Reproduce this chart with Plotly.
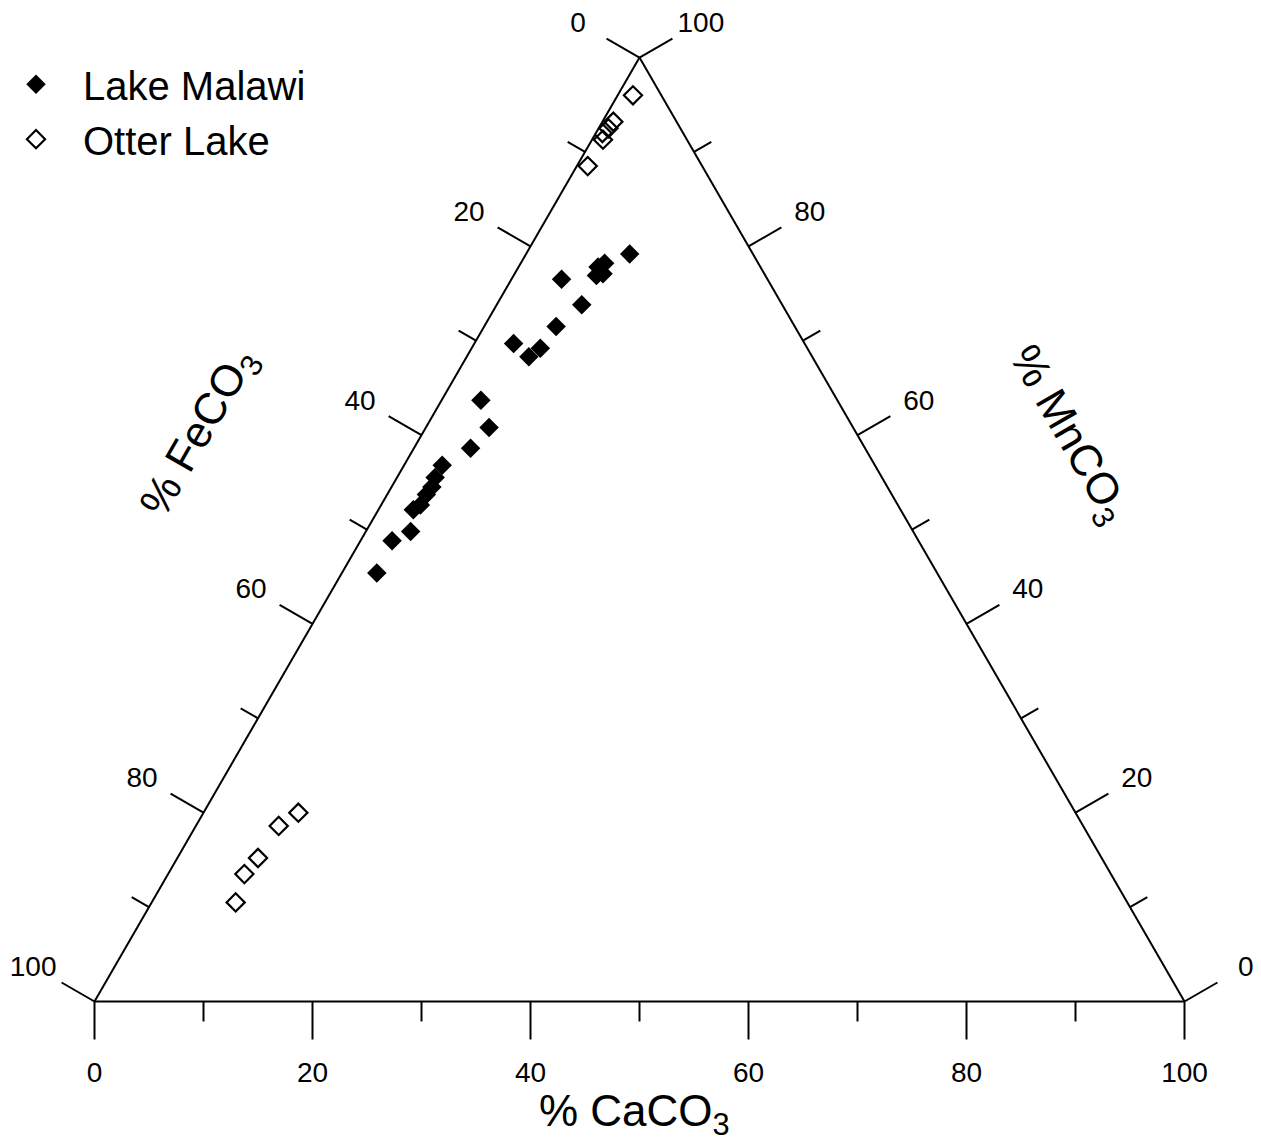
import math
import plotly.graph_objects as go

# Ternary data: MnCO3 (top), FeCO3 (bottom-left), CaCO3 (bottom-right), in %
malawi_mn = [79.2, 78.2, 77.8, 76.9, 77.1, 76.5, 73.8, 71.5, 69.7, 69.2, 68.3,
             63.7, 60.8, 58.6, 56.8, 55.5, 54.5, 53.7, 52.6, 52.1, 49.8, 48.8, 45.4]
malawi_fe = [11.3, 14.1, 14.9, 15.5, 14.8, 18.9, 18.4, 21.9, 26.7, 24.5, 26.0,
             32.7, 33.4, 36.2, 39.7, 41.0, 41.8, 42.7, 43.8, 44.7, 46.1, 48.3, 51.4]
malawi_ca = [9.5, 7.7, 7.3, 7.6, 8.1, 4.6, 7.8, 6.6, 3.6, 6.3, 5.7,
             3.6, 5.8, 5.2, 3.5, 3.5, 3.7, 3.6, 3.6, 3.2, 4.1, 2.9, 3.2]

otter_mn = [96.0, 93.2, 92.5, 92.0, 91.3, 88.5, 20.0, 18.6, 15.2, 13.5, 10.5]
otter_fe = [2.6, 5.8, 6.6, 7.4, 7.7, 10.5, 71.3, 73.8, 77.4, 79.5, 81.8]
otter_ca = [1.4, 1.0, 0.9, 0.6, 1.0, 1.0, 8.7, 7.6, 7.4, 7.0, 7.7]

# Axis tick values (percent of the labelled component)
major_ticks = [0, 20, 40, 60, 80, 100]
minor_ticks = [10, 30, 50, 70, 90]

W, H = 1261, 1143
FONT = "Liberation Sans, Arial, Helvetica, sans-serif"
S3 = math.sqrt(3) / 2

# Triangle placement on the page (pixels) and scale
TRI_LEFT, TRI_RIGHT, TRI_BOTTOM = 94.5, 1184.5, 1001.5
PX = (TRI_RIGHT - TRI_LEFT) / 100.0          # pixels per ternary percent unit
TRI_TOP = TRI_BOTTOM - 100 * S3 * PX

# tick geometry in ternary percent units (triangle side = 100)
MAJOR_LEN = 38 / PX
MINOR_LEN = 20 / PX
LABEL_DIST = 6.5
LABEL_DROP = 3 / PX      # optical correction: digits sit above the text box centre


def edge_point(axis, v):
    """Point on the edge for value v of the labelled component, plus outward normal,
    in isotropic cartesian units where the triangle side is 100."""
    if axis == "ca":   # bottom edge, CaCO3 increasing to the right
        return (v, 0.0), (0.0, -1.0)
    if axis == "fe":   # left edge, FeCO3 increasing downward
        return ((100 - v) / 2, (100 - v) * S3), (-S3, 0.5)
    # right edge, MnCO3 increasing upward
    return (100 - v / 2, v * S3), (S3, 0.5)


tick_x, tick_y = [], []
lab_x, lab_y, lab_t = [], [], []
for axis in ("ca", "fe", "mn"):
    for vals, ln in ((major_ticks, MAJOR_LEN), (minor_ticks, MINOR_LEN)):
        for v in vals:
            (x, y), (nx, ny) = edge_point(axis, v)
            tick_x += [x, x + nx * ln, None]
            tick_y += [y, y + ny * ln, None]
    for v in major_ticks:
        (x, y), (nx, ny) = edge_point(axis, v)
        lab_x.append(x + nx * LABEL_DIST)
        lab_y.append(y + ny * LABEL_DIST - LABEL_DROP)
        lab_t.append(str(v))

fig = go.Figure()
# ticks and tick labels on a cartesian overlay aligned with the ternary frame
fig.add_trace(go.Scatter(
    x=tick_x, y=tick_y, mode="lines", showlegend=False, hoverinfo="skip",
    line=dict(color="black", width=2), connectgaps=False))
fig.add_trace(go.Scatter(
    x=lab_x, y=lab_y, mode="text", text=lab_t, textposition="middle center",
    textfont=dict(family=FONT, size=28, color="black"), showlegend=False,
    hoverinfo="skip", cliponaxis=False))
# data on the ternary subplot
fig.add_trace(go.Scatterternary(
    a=malawi_mn, b=malawi_fe, c=malawi_ca, mode="markers", name="Lake Malawi",
    marker=dict(symbol="diamond", size=15, color="black", line=dict(width=0))))
fig.add_trace(go.Scatterternary(
    a=otter_mn, b=otter_fe, c=otter_ca, mode="markers", name="Otter Lake",
    marker=dict(symbol="diamond-open", size=14, color="black", line=dict(width=2.2))))

dom_x = [TRI_LEFT / W, TRI_RIGHT / W]
dom_y = [1 - TRI_BOTTOM / H, 1 - TRI_TOP / H]


def frame_axis():
    return dict(title=dict(text=""), ticks="", showticklabels=False,
                showline=True, linecolor="black", linewidth=2, showgrid=False, min=0)


fig.update_layout(
    width=W, height=H,
    margin=dict(l=0, r=0, t=0, b=0, autoexpand=False),
    paper_bgcolor="white",
    plot_bgcolor="white",
    font=dict(family=FONT, color="black"),
    xaxis=dict(visible=False, domain=[0, 1], range=[-TRI_LEFT / PX, (W - TRI_LEFT) / PX],
               fixedrange=True),
    yaxis=dict(visible=False, domain=[0, 1], range=[-(H - TRI_BOTTOM) / PX, TRI_BOTTOM / PX],
               fixedrange=True),
    ternary=dict(sum=100, domain=dict(x=dom_x, y=dom_y), bgcolor="rgba(0,0,0,0)",
                 aaxis=frame_axis(), baxis=frame_axis(), caxis=frame_axis()),
    legend=dict(x=-11 / W, y=0.9548, xanchor="left", yanchor="top",
                font=dict(family=FONT, size=40, color="black"),
                bgcolor="rgba(0,0,0,0)", itemwidth=84, tracegroupgap=0),
    showlegend=True,
    annotations=[
        dict(text="% FeCO<sub>3</sub>", x=200 / W, y=1 - 433 / H, xref="paper", yref="paper",
             showarrow=False, textangle=-60, font=dict(family=FONT, size=44, color="black"),
             xanchor="center", yanchor="middle"),
        dict(text="% MnCO<sub>3</sub>", x=1068 / W, y=1 - 435 / H, xref="paper", yref="paper",
             showarrow=False, textangle=60, font=dict(family=FONT, size=44, color="black"),
             xanchor="center", yanchor="middle"),
        dict(text="% CaCO<sub>3</sub>", x=634 / W, y=1 - 1114 / H, xref="paper", yref="paper",
             showarrow=False, textangle=0, font=dict(family=FONT, size=44, color="black"),
             xanchor="center", yanchor="middle"),
    ],
)

fig.write_html("out.html")
